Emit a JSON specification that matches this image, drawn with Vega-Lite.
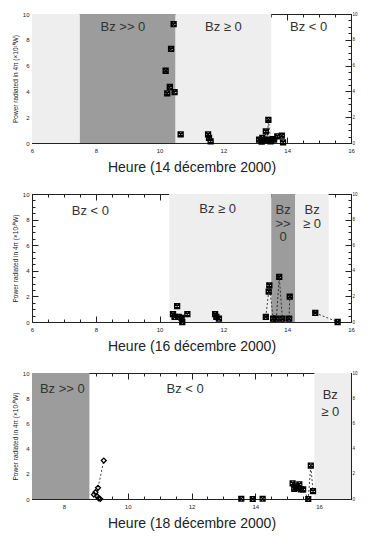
{
  "$schema": "https://vega.github.io/schema/vega-lite/v6.json",
  "background": "white",
  "padding": {"left": 11, "top": 10, "right": 2, "bottom": 5},
  "spacing": 15,
  "config": {
    "font": "Liberation Sans",
    "view": {"stroke": "#222", "strokeWidth": 1},
    "axis": {
      "domainColor": "#222",
      "tickColor": "#222",
      "labelColor": "#222",
      "titleColor": "#222",
      "grid": false,
      "labelFontSize": 6,
      "format": "d",
      "titleFontWeight": "normal",
      "tickSize": {"condition": {"test": "datum.value % 2 === 0", "value": -6}, "value": -3},
      "labelExpr": "datum.value % 2 === 0 ? datum.label : ''",
      "labelFlush": false,
      "labelOverlap": false
    },
    "text": {"font": "Liberation Sans", "fontSize": 13, "color": "#333"}
  },
  "datasets": {
    "bg1": [{"a": 6, "b": 7.5, "z": "light"}, {"a": 7.5, "b": 10.5, "z": "dark"}, {"a": 10.5, "b": 13.5, "z": "light"}],
    "bg2": [{"a": 10.3, "b": 13.5, "z": "light"}, {"a": 13.5, "b": 14.25, "z": "dark"}, {"a": 14.25, "b": 15.3, "z": "light"}],
    "bg3": [{"a": 7, "b": 8.8, "z": "dark"}, {"a": 15.85, "b": 17, "z": "light"}],
    "lab1": [{"t": 8.85, "p": 9.0, "txt": "Bz >> 0"}, {"t": 12.0, "p": 9.0, "txt": "Bz ≥ 0"}, {"t": 14.67, "p": 9.0, "txt": "Bz < 0"}],
    "lab2": [{"t": 7.83, "p": 8.7, "txt": "Bz < 0"}, {"t": 11.82, "p": 8.8, "txt": "Bz ≥ 0"}, {"t": 13.87, "p": 8.75, "txt": "Bz\n>>\n0"}, {"t": 14.78, "p": 8.75, "txt": "Bz\n≥ 0"}],
    "lab3": [{"t": 7.95, "p": 8.7, "txt": "Bz >> 0"}, {"t": 11.8, "p": 8.7, "txt": "Bz < 0"}, {"t": 16.35, "p": 8.25, "txt": "Bz\n≥ 0"}],
    "p1": [
      {"t": 10.19, "p": 5.6, "s": 1}, {"t": 10.24, "p": 3.85, "s": 2}, {"t": 10.32, "p": 4.34, "s": 3},
      {"t": 10.36, "p": 7.29, "s": 4}, {"t": 10.44, "p": 9.22, "s": 5}, {"t": 10.47, "p": 3.95, "s": 6},
      {"t": 10.66, "p": 0.67, "s": 7},
      {"t": 11.52, "p": 0.67, "s": 8}, {"t": 11.55, "p": 0.39, "s": 8}, {"t": 11.6, "p": 0.13, "s": 8},
      {"t": 13.12, "p": 0.26, "s": 9}, {"t": 13.2, "p": 0.1, "s": 9}, {"t": 13.22, "p": 0.39, "s": 9},
      {"t": 13.3, "p": 0.2, "s": 9}, {"t": 13.33, "p": 0.9, "s": 9}, {"t": 13.38, "p": 0.26, "s": 9},
      {"t": 13.41, "p": 1.8, "s": 9}, {"t": 13.48, "p": 0.13, "s": 9}, {"t": 13.55, "p": 0.3, "s": 9},
      {"t": 13.59, "p": 0.26, "s": 9}, {"t": 13.69, "p": 0.52, "s": 9}, {"t": 13.83, "p": 0.57, "s": 9},
      {"t": 13.87, "p": 0.05, "s": 9}
    ],
    "p2": [
      {"t": 10.42, "p": 0.61, "s": 1}, {"t": 10.47, "p": 0.4, "s": 2}, {"t": 10.55, "p": 1.24, "s": 3},
      {"t": 10.6, "p": 0.4, "s": 4}, {"t": 10.69, "p": 0.32, "s": 5}, {"t": 10.71, "p": 0.0, "s": 6},
      {"t": 10.87, "p": 0.61, "s": 7},
      {"t": 11.74, "p": 0.61, "s": 8}, {"t": 11.78, "p": 0.4, "s": 8}, {"t": 11.86, "p": 0.26, "s": 8},
      {"t": 13.33, "p": 0.4, "s": 9}, {"t": 13.42, "p": 2.38, "s": 9}, {"t": 13.44, "p": 2.86, "s": 9},
      {"t": 13.56, "p": 0.26, "s": 9}, {"t": 13.66, "p": 0.26, "s": 9}, {"t": 13.75, "p": 3.52, "s": 9},
      {"t": 13.85, "p": 0.26, "s": 9}, {"t": 14.06, "p": 0.26, "s": 9}, {"t": 14.08, "p": 1.98, "s": 9},
      {"t": 14.88, "p": 0.71, "s": 10}, {"t": 15.58, "p": 0.0, "s": 10}
    ],
    "p3": [
      {"t": 8.94, "p": 0.35, "s": 1, "k": "d"}, {"t": 8.99, "p": 0.54, "s": 1, "k": "d"}, {"t": 9.04, "p": 0.22, "s": 1, "k": "d"},
      {"t": 9.07, "p": 0.89, "s": 1, "k": "d"}, {"t": 9.25, "p": 3.05, "s": 1, "k": "d"}, {"t": 9.09, "p": 0.05, "s": 2, "k": "d"},
      {"t": 9.14, "p": 0.0, "s": 3, "k": "d"},
      {"t": 13.56, "p": 0.02, "s": 4, "k": "x"}, {"t": 13.92, "p": 0.0, "s": 5, "k": "x"}, {"t": 14.23, "p": 0.02, "s": 6, "k": "x"},
      {"t": 15.17, "p": 1.24, "s": 7, "k": "x"}, {"t": 15.22, "p": 0.81, "s": 7, "k": "x"}, {"t": 15.27, "p": 1.0, "s": 7, "k": "x"},
      {"t": 15.32, "p": 0.89, "s": 7, "k": "x"}, {"t": 15.38, "p": 1.16, "s": 7, "k": "x"}, {"t": 15.43, "p": 0.76, "s": 7, "k": "x"},
      {"t": 15.5, "p": 0.76, "s": 7, "k": "x"}, {"t": 15.66, "p": 0.0, "s": 7, "k": "x"}, {"t": 15.74, "p": 2.65, "s": 7, "k": "x"},
      {"t": 15.81, "p": 0.62, "s": 7, "k": "x"}
    ]
  },
  "vconcat": [
    {
      "width": 319, "height": 129,
      "resolve": {"axis": {"x": "independent", "y": "independent"}},
      "layer": [
        {
          "data": {"name": "bg1"},
          "mark": {"type": "rect"},
          "encoding": {
            "x": {"field": "a", "type": "quantitative", "scale": {"domain": [6, 16], "nice": false, "zero": false},
                  "axis": {"orient": "bottom", "values": [6,6.5,7,7.5,8,8.5,9,9.5,10,10.5,11,11.5,12,12.5,13,13.5,14,14.5,15,15.5,16], "title": "Heure (14 décembre 2000)", "titleFontSize": 14, "titlePadding": 4, "labelPadding": 10}},
            "x2": {"field": "b"},
            "y": {"datum": 0, "type": "quantitative", "scale": {"domain": [0, 10], "nice": false},
                  "axis": {"orient": "left", "values": [0,0.5,1,1.5,2,2.5,3,3.5,4,4.5,5,5.5,6,6.5,7,7.5,8,8.5,9,9.5,10], "title": "Power radiated in 4π (×10¹⁰W)", "titleFontSize": 6.5, "labelPadding": 9, "titlePadding": 4}},
            "y2": {"datum": 10},
            "color": {"field": "z", "type": "nominal", "scale": {"domain": ["light", "dark"], "range": ["#eeeeee", "#9c9c9c"]}, "legend": null}
          }
        },
        {
          "data": {"name": "lab1"},
          "mark": {"type": "text"},
          "encoding": {
            "x": {"field": "t", "type": "quantitative", "axis": null},
            "y": {"field": "p", "type": "quantitative", "axis": null},
            "text": {"field": "txt"}
          }
        },
        {
          "data": {"name": "p1"},
          "mark": {"type": "line", "strokeDash": [2, 2], "color": "#111", "strokeWidth": 0.8},
          "encoding": {
            "x": {"field": "t", "type": "quantitative", "axis": null},
            "y": {"field": "p", "type": "quantitative", "axis": null},
            "detail": {"field": "s"}
          }
        },
        {
          "data": {"name": "p1"},
          "mark": {"type": "point", "shape": "M-1,-1H1V1H-1Z M-1,-1L1,1 M-1,1L1,-1", "filled": false, "stroke": "#000", "strokeWidth": 1.4, "size": 24, "opacity": 1},
          "encoding": {
            "x": {"field": "t", "type": "quantitative", "axis": {"orient": "top", "labels": false, "title": null, "values": [6,6.5,7,7.5,8,8.5,9,9.5,10,10.5,11,11.5,12,12.5,13,13.5,14,14.5,15,15.5,16]}},
            "y": {"field": "p", "type": "quantitative", "axis": {"orient": "right", "title": null, "labelFontSize": 4.5, "labelPadding": 7, "values": [0,0.5,1,1.5,2,2.5,3,3.5,4,4.5,5,5.5,6,6.5,7,7.5,8,8.5,9,9.5,10]}}
          }
        }
      ]
    },
    {
      "width": 319, "height": 128,
      "resolve": {"axis": {"x": "independent", "y": "independent"}},
      "layer": [
        {
          "data": {"name": "bg2"},
          "mark": {"type": "rect"},
          "encoding": {
            "x": {"field": "a", "type": "quantitative", "scale": {"domain": [6, 16], "nice": false, "zero": false},
                  "axis": {"orient": "bottom", "values": [6,6.5,7,7.5,8,8.5,9,9.5,10,10.5,11,11.5,12,12.5,13,13.5,14,14.5,15,15.5,16], "title": "Heure (16 décembre 2000)", "titleFontSize": 14, "titlePadding": 4, "labelPadding": 10}},
            "x2": {"field": "b"},
            "y": {"datum": 0, "type": "quantitative", "scale": {"domain": [0, 10], "nice": false},
                  "axis": {"orient": "left", "values": [0,0.5,1,1.5,2,2.5,3,3.5,4,4.5,5,5.5,6,6.5,7,7.5,8,8.5,9,9.5,10], "title": "Power radiated in 4π (×10¹⁰W)", "titleFontSize": 6.5, "labelPadding": 9, "titlePadding": 4}},
            "y2": {"datum": 10},
            "color": {"field": "z", "type": "nominal", "scale": {"domain": ["light", "dark"], "range": ["#eeeeee", "#9c9c9c"]}, "legend": null}
          }
        },
        {
          "data": {"name": "lab2"},
          "mark": {"type": "text", "lineBreak": "\n", "lineHeight": 13.5},
          "encoding": {
            "x": {"field": "t", "type": "quantitative", "axis": null},
            "y": {"field": "p", "type": "quantitative", "axis": null},
            "text": {"field": "txt"}
          }
        },
        {
          "data": {"name": "p2"},
          "mark": {"type": "line", "strokeDash": [2, 2], "color": "#111", "strokeWidth": 0.8},
          "encoding": {
            "x": {"field": "t", "type": "quantitative", "axis": null},
            "y": {"field": "p", "type": "quantitative", "axis": null},
            "detail": {"field": "s"}
          }
        },
        {
          "data": {"name": "p2"},
          "mark": {"type": "point", "shape": "M-1,-1H1V1H-1Z M-1,-1L1,1 M-1,1L1,-1", "filled": false, "stroke": "#000", "strokeWidth": 1.4, "size": 24, "opacity": 1},
          "encoding": {
            "x": {"field": "t", "type": "quantitative", "axis": {"orient": "top", "labels": false, "title": null, "values": [6,6.5,7,7.5,8,8.5,9,9.5,10,10.5,11,11.5,12,12.5,13,13.5,14,14.5,15,15.5,16]}},
            "y": {"field": "p", "type": "quantitative", "axis": {"orient": "right", "title": null, "labelFontSize": 4.5, "labelPadding": 7, "values": [0,0.5,1,1.5,2,2.5,3,3.5,4,4.5,5,5.5,6,6.5,7,7.5,8,8.5,9,9.5,10]}}
          }
        }
      ]
    },
    {
      "width": 319, "height": 126,
      "resolve": {"axis": {"x": "independent", "y": "independent"}},
      "layer": [
        {
          "data": {"name": "bg3"},
          "mark": {"type": "rect"},
          "encoding": {
            "x": {"field": "a", "type": "quantitative", "scale": {"domain": [7, 17], "nice": false, "zero": false},
                  "axis": {"orient": "bottom", "values": [7,7.5,8,8.5,9,9.5,10,10.5,11,11.5,12,12.5,13,13.5,14,14.5,15,15.5,16,16.5,17], "labelExpr": "datum.value % 2 === 0 ? datum.label : ''", "title": "Heure (18 décembre 2000)", "titleFontSize": 14, "titlePadding": 4, "labelPadding": 10}},
            "x2": {"field": "b"},
            "y": {"datum": 0, "type": "quantitative", "scale": {"domain": [0, 10], "nice": false},
                  "axis": {"orient": "left", "values": [0,0.5,1,1.5,2,2.5,3,3.5,4,4.5,5,5.5,6,6.5,7,7.5,8,8.5,9,9.5,10], "title": "Power radiated in 4π (×10¹⁰W)", "titleFontSize": 6.5, "labelPadding": 9, "titlePadding": 4}},
            "y2": {"datum": 10},
            "color": {"field": "z", "type": "nominal", "scale": {"domain": ["light", "dark"], "range": ["#eeeeee", "#9c9c9c"]}, "legend": null}
          }
        },
        {
          "data": {"name": "lab3"},
          "mark": {"type": "text", "lineBreak": "\n", "lineHeight": 17},
          "encoding": {
            "x": {"field": "t", "type": "quantitative", "axis": null},
            "y": {"field": "p", "type": "quantitative", "axis": null},
            "text": {"field": "txt"}
          }
        },
        {
          "data": {"name": "p3"},
          "mark": {"type": "line", "strokeDash": [2, 2], "color": "#111", "strokeWidth": 0.8},
          "encoding": {
            "x": {"field": "t", "type": "quantitative", "axis": null},
            "y": {"field": "p", "type": "quantitative", "axis": null},
            "detail": {"field": "s"}
          }
        },
        {
          "data": {"name": "p3"},
          "mark": {"type": "point", "filled": false, "stroke": "#000", "strokeWidth": 1.3, "size": 24, "opacity": 1},
          "encoding": {
            "x": {"field": "t", "type": "quantitative", "axis": {"orient": "top", "labels": false, "title": null, "values": [7,7.5,8,8.5,9,9.5,10,10.5,11,11.5,12,12.5,13,13.5,14,14.5,15,15.5,16,16.5,17]}},
            "y": {"field": "p", "type": "quantitative", "axis": {"orient": "right", "title": null, "labelFontSize": 4.5, "labelPadding": 7, "values": [0,0.5,1,1.5,2,2.5,3,3.5,4,4.5,5,5.5,6,6.5,7,7.5,8,8.5,9,9.5,10]}},
            "shape": {"field": "k", "type": "nominal", "scale": {"domain": ["x", "d"], "range": ["M-1,-1H1V1H-1Z M-1,-1L1,1 M-1,1L1,-1", "diamond"]}, "legend": null}
          }
        }
      ]
    }
  ]
}
